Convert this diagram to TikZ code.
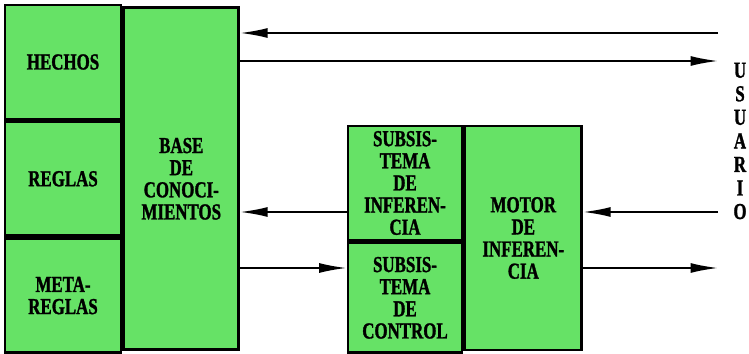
\documentclass[tikz,border=0pt]{standalone}
\usepackage{fontspec}
\setmainfont{Liberation Serif}[FakeStretch=0.74,FakeBold=1.3]
\usepackage{tikz}
\usetikzlibrary{arrows.meta,positioning}
\definecolor{kbgreen}{RGB}{102,226,102}

\begin{document}
\begin{tikzpicture}[x=0.02cm,y=-0.02cm,
  block/.style={draw,line width=1.6pt,fill=kbgreen,align=center,inner sep=0pt,
    font=\bfseries\fontsize{13}{12.6}\selectfont},
  flow/.style={line width=1pt,-{Latex[length=5.5mm,width=2mm]}}]
\useasboundingbox (0,0) rectangle (749,354);
% knowledge base
\node[block,minimum width=2.32cm,minimum height=2.28cm] (hechos) at (63,62) {HECHOS};
\node[block,minimum width=2.32cm,minimum height=2.28cm,below=0pt of hechos] (reglas) {REGLAS};
\node[block,minimum width=2.32cm,minimum height=2.28cm,below=0pt of reglas] (meta) {META-\\REGLAS};
\node[block,minimum width=2.3cm,minimum height=6.84cm,right=0pt of reglas] (base) {BASE\\DE\\CONOCI-\\MIENTOS};
% inference engine
\node[block,minimum width=2.28cm,minimum height=2.28cm] (subinf) at (405,183) {SUBSIS-\\TEMA\\DE\\INFEREN-\\CIA};
\node[block,minimum width=2.28cm,minimum height=2.2cm,below=0pt of subinf] (subctrl) {SUBSIS-\\TEMA\\DE\\CONTROL};
\node[block,minimum width=2.34cm,minimum height=4.48cm,anchor=north west] (motor) at (subinf.north east) {MOTOR\\DE\\INFEREN-\\CIA};
% user
\node[align=center,font=\bfseries\fontsize{13}{13.4}\selectfont] (usuario) at (740,141) {U\\S\\U\\A\\R\\I\\O};
\coordinate (u1) at (718,33);
\coordinate (u2) at (718,61);
\coordinate (u3) at (718,212);
\coordinate (u4) at (718,268);
\draw[flow] (u1) -- (u1 -| base.east);
\draw[flow] (base.east |- u2) -- (u2);
\draw[flow] (u3) -- (u3 -| motor.east);
\draw[flow] (subinf.west |- u3) -- (u3 -| base.east);
\draw[flow] (base.east |- u4) -- (u4 -| subctrl.west);
\draw[flow] (motor.east |- u4) -- (u4);
\end{tikzpicture}
\end{document}
